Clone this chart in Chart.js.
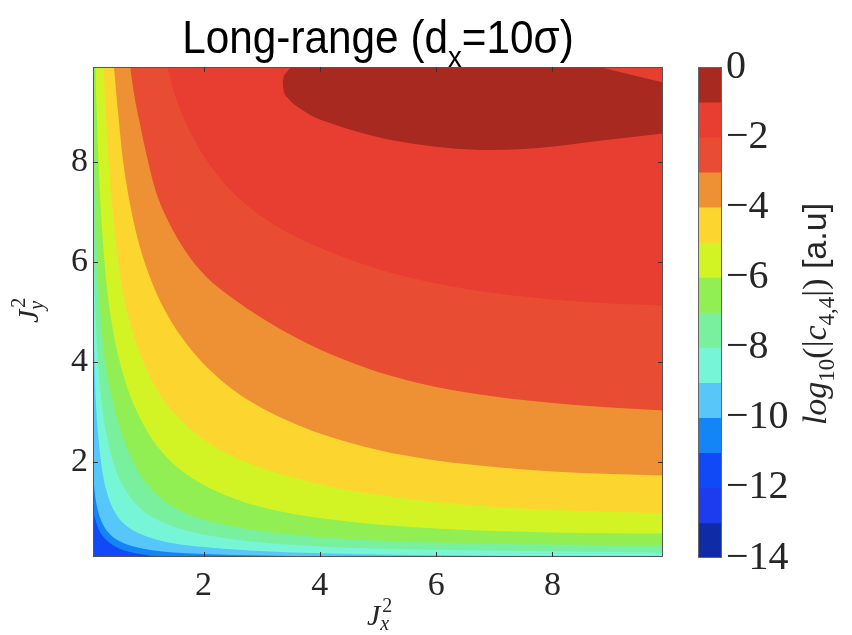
<!DOCTYPE html>
<html>
<head>
<meta charset="utf-8">
<script src="https://cdn.jsdelivr.net/npm/chart.js@4.4.0/dist/chart.umd.min.js"></script>
<style>
  html, body { margin: 0; padding: 0; background: #fff; }
  #wrap { position: relative; width: 852px; height: 635px; }
  #wrap canvas { position: absolute; left: 0; top: 0; }
</style>
</head>
<body>
<div id="wrap">
  <canvas id="mapCanvas" width="852" height="635"></canvas>
  <canvas id="barCanvas" width="852" height="635"></canvas>
</div>
<script>
// --- DATA ---
const xRange = [0.1, 9.9];
const yRange = [0.1, 9.9];
const xTicks = [2, 4, 6, 8];
const yTicks = [2, 4, 6, 8];
const cbarRange = [-14, 0];
const cbarTicks = [0, -2, -4, -6, -8, -10, -12, -14];

// one colour per band, from (0,-1) down to (-13,-14)
const bandColors = [
    '#a8291f', '#e83d31', '#e84c33', '#ee9134', '#fcd62f', '#d3f424', '#91ef53',
    '#79f09d', '#77f5d7', '#57c6f9', '#1485f7', '#1249f6', '#1d3ced', '#0f2ca6'
];

// contour lines as [J_x^2, J_y^2] pairs; the region above/right of each line is >= its level
const floorLine = [[0.1, 0.1], [9.9, 0.1]];               // level -12 fills whole map
const contourM11 = [[0.1, 1.0], [0.2, 0.65], [0.35, 0.42], [0.55, 0.27], [0.85, 0.17], [1.3, 0.11], [2.0, 0.08], [9.9, 0.05]];
const contourM10 = [[0.1, 1.85], [0.13, 1.4], [0.18, 1.05], [0.26, 0.78], [0.38, 0.57], [0.55, 0.42], [0.8, 0.31], [1.15, 0.23], [1.7, 0.175], [2.5, 0.14], [3.5, 0.12], [4.5, 0.105], [6.0, 0.095], [9.9, 0.08]];
const contourM9 = [[0.1, 5.5], [0.12, 4.2], [0.15, 3.2], [0.2, 2.4], [0.27, 1.75], [0.37, 1.28], [0.5, 0.95], [0.7, 0.7], [1.0, 0.52], [1.4, 0.39], [2.0, 0.3], [2.8, 0.23], [4.0, 0.175], [6.0, 0.135], [8.0, 0.115], [9.9, 0.1]];
const contourM8 = [[0.1, 7.5], [0.12, 6.0], [0.15, 4.8], [0.2, 3.8], [0.27, 3.0], [0.37, 2.35], [0.5, 1.82], [0.68, 1.4], [0.92, 1.07], [1.25, 0.82], [1.7, 0.63], [2.3, 0.49], [3.0, 0.39], [4.0, 0.31], [5.0, 0.27], [6.0, 0.245], [8.0, 0.215], [9.9, 0.19]];
const contourM7 = [[0.1, 9.3], [0.12, 8.0], [0.15, 6.8], [0.19, 5.6], [0.25, 4.6], [0.33, 3.85], [0.44, 3.2], [0.58, 2.62], [0.76, 2.08], [1.0, 1.6], [1.3, 1.24], [1.7, 0.97], [2.2, 0.79], [2.8, 0.65], [3.5, 0.55], [4.2, 0.48], [5.0, 0.43], [6.0, 0.39], [7.0, 0.365], [8.0, 0.35], [9.9, 0.33]];
const contourM6 = [[0.14, 9.9], [0.17, 8.8], [0.21, 7.6], [0.26, 6.6], [0.33, 5.6], [0.42, 4.8], [0.54, 4.1], [0.7, 3.45], [0.9, 2.9], [1.15, 2.4], [1.45, 2.0], [1.8, 1.68], [2.25, 1.4], [2.8, 1.16], [3.5, 0.97], [4.2, 0.85], [5.0, 0.75], [6.0, 0.67], [7.0, 0.62], [8.0, 0.59], [9.0, 0.575], [9.9, 0.57]];
const contourM5 = [[0.28, 9.9], [0.32, 9.0], [0.37, 8.0], [0.43, 7.1], [0.5, 6.3], [0.6, 5.5], [0.72, 4.85], [0.88, 4.25], [1.08, 3.7], [1.32, 3.22], [1.6, 2.85], [1.95, 2.5], [2.4, 2.17], [2.9, 1.92], [3.5, 1.7], [4.2, 1.5], [5.0, 1.34], [6.0, 1.2], [7.0, 1.1], [8.0, 1.04], [9.0, 1.0], [9.9, 0.98]];
const contourM4 = [[0.46, 9.9], [0.53, 9.0], [0.62, 8.0], [0.73, 7.2], [0.86, 6.5], [1.0, 5.95], [1.2, 5.35], [1.45, 4.8], [1.75, 4.3], [2.1, 3.85], [2.5, 3.45], [3.0, 3.08], [3.5, 2.8], [4.0, 2.57], [5.0, 2.24], [6.0, 2.03], [7.0, 1.9], [8.0, 1.81], [9.0, 1.76], [9.9, 1.73]];
const contourM3 = [[0.74, 9.9], [0.8, 9.4], [0.9, 8.8], [1.0, 8.25], [1.17, 7.45], [1.4, 6.8], [1.7, 6.2], [2.05, 5.7], [2.47, 5.3], [3.0, 4.88], [3.6, 4.48], [4.2, 4.15], [5.0, 3.8], [6.0, 3.5], [7.0, 3.31], [8.0, 3.18], [9.0, 3.09], [9.9, 3.03]];
const contourM2 = [[1.38, 9.9], [1.48, 9.45], [1.6, 9.05], [1.75, 8.65], [1.95, 8.22], [2.2, 7.8], [2.5, 7.4], [2.85, 7.04], [3.25, 6.72], [3.7, 6.44], [4.2, 6.19], [5.0, 5.86], [6.0, 5.57], [7.0, 5.38], [8.0, 5.25], [9.0, 5.17], [9.9, 5.13]];
// level -1 closes into an ellipse that is cut by the top edge
const contourM1Lower = [[3.36, 9.57], [3.38, 9.42], [3.45, 9.28], [3.55, 9.16], [3.7, 9.04], [3.9, 8.9], [4.2, 8.77], [4.6, 8.62], [5.1, 8.47], [5.7, 8.35], [6.3, 8.27], [6.9, 8.24], [7.5, 8.26], [8.1, 8.32], [8.7, 8.41], [9.3, 8.49], [9.9, 8.57]];
const contourM1UpperLeft = [[3.36, 9.57], [3.38, 9.7], [3.43, 9.8], [3.5, 9.88], [3.56, 9.93]];
const contourM1UpperRight = [[8.7, 9.93], [9.3, 9.76], [9.9, 9.59]];

// --- HELPERS ---
const serif = '"Liberation Serif", "DejaVu Serif", serif';
const sans = '"Liberation Sans", Arial, sans-serif';
const inkColor = '#262626';

function contour(points, color) {
    return {
        data: points.map(([x, y]) => ({ x, y })),
        backgroundColor: color,
        borderColor: 'rgba(0,0,0,0)',
        borderWidth: 0,
        pointRadius: 0,
        fill: 'end',
        cubicInterpolationMode: 'monotone'
    };
}

// draws a row of text pieces (for sub/superscripts), centred on x
function drawRuns(ctx, runs, x, y) {
    let total = 0;
    runs.forEach(r => {
        ctx.font = r.font;
        r.w = ctx.measureText(r.text).width;
        if (!r.stay) total += r.w;
    });
    let cx = x - total / 2;
    runs.forEach(r => {
        ctx.font = r.font;
        ctx.fillText(r.text, cx + (r.dx || 0), y + (r.dy || 0));
        if (!r.stay) cx += r.w;
    });
}

// paint from the lowest level up; Chart.js draws dataset 0 last, so reverse
const painted = [
    contour(floorLine, bandColors[11]),
    contour(contourM11, bandColors[10]),
    contour(contourM10, bandColors[9]),
    contour(contourM9, bandColors[8]),
    contour(contourM8, bandColors[7]),
    contour(contourM7, bandColors[6]),
    contour(contourM6, bandColors[5]),
    contour(contourM5, bandColors[4]),
    contour(contourM4, bandColors[3]),
    contour(contourM3, bandColors[2]),
    contour(contourM2, bandColors[1]),
    contour(contourM1Lower, bandColors[0]),
    contour(contourM1UpperLeft, bandColors[1]),
    contour(contourM1UpperRight, bandColors[1])
].reverse();

// --- MAP PLUGIN: frame, inner ticks, title, axis titles ---
const mapDecor = {
    id: 'mapDecor',
    afterDraw(chart) {
        const { ctx, chartArea: a, scales } = chart;
        ctx.save();
        ctx.strokeStyle = '#555';
        ctx.lineWidth = 1;
        ctx.strokeRect(a.left + 0.5, a.top + 0.5, a.right - a.left - 1, a.bottom - a.top - 1);

        ctx.strokeStyle = '#333';
        ctx.beginPath();
        xTicks.forEach(v => {
            const px = Math.round(scales.x.getPixelForValue(v)) + 0.5;
            ctx.moveTo(px, a.bottom); ctx.lineTo(px, a.bottom - 5);
            ctx.moveTo(px, a.top); ctx.lineTo(px, a.top + 5);
        });
        yTicks.forEach(v => {
            const py = Math.round(scales.y.getPixelForValue(v)) + 0.5;
            ctx.moveTo(a.left, py); ctx.lineTo(a.left + 5, py);
            ctx.moveTo(a.right, py); ctx.lineTo(a.right - 5, py);
        });
        ctx.stroke();

        ctx.fillStyle = '#000';
        ctx.textBaseline = 'alphabetic';
        ctx.textAlign = 'left';

        // title
        ctx.save();
        ctx.translate((a.left + a.right) / 2, 53);
        ctx.scale(0.92, 1);
        drawRuns(ctx, [
            { text: 'Long-range (d', font: '46px ' + sans },
            { text: 'x', font: '30px ' + sans, dy: 14 },
            { text: '=10σ)', font: '46px ' + sans }
        ], 0, 0);
        ctx.restore();

        ctx.fillStyle = inkColor;
        // x title
        drawRuns(ctx, [
            { text: 'J', font: 'italic 30px ' + serif },
            { text: '2', font: '20px ' + serif, dy: -13, dx: 2, stay: true },
            { text: 'x', font: 'italic 20px ' + serif, dy: 5 }
        ], (a.left + a.right) / 2, 625);

        // y title
        ctx.save();
        ctx.translate(38, (a.top + a.bottom) / 2);
        ctx.rotate(-Math.PI / 2);
        drawRuns(ctx, [
            { text: 'J', font: 'italic 30px ' + serif },
            { text: '2', font: '20px ' + serif, dy: -13, dx: 2, stay: true },
            { text: 'y', font: 'italic 20px ' + serif, dy: 5 }
        ], 0, 0);
        ctx.restore();
        ctx.restore();
    }
};

new Chart(document.getElementById('mapCanvas'), {
    type: 'line',
    data: { datasets: painted },
    options: {
        responsive: false,
        animation: false,
        layout: { padding: { left: 0, top: 67, right: 189, bottom: 0 } },
        plugins: { legend: { display: false }, tooltip: { enabled: false }, filler: { propagate: false } },
        scales: {
            x: {
                type: 'linear', min: xRange[0], max: xRange[1],
                grid: { display: false, drawTicks: false }, border: { display: false },
                ticks: { padding: 9, color: inkColor, font: { family: serif, size: 34 } },
                afterBuildTicks: s => { s.ticks = xTicks.map(v => ({ value: v })); },
                afterFit: s => { s.height = 78; }
            },
            y: {
                type: 'linear', min: yRange[0], max: yRange[1],
                grid: { display: false, drawTicks: false }, border: { display: false },
                ticks: { padding: 5, color: inkColor, font: { family: serif, size: 34 } },
                afterBuildTicks: s => { s.ticks = yTicks.map(v => ({ value: v })); },
                afterFit: s => { s.width = 93; }
            }
        }
    },
    plugins: [mapDecor]
});

// --- COLORBAR ---
const barDecor = {
    id: 'barDecor',
    afterDraw(chart) {
        const { ctx, chartArea: a } = chart;
        ctx.save();
        ctx.strokeStyle = '#666';
        ctx.lineWidth = 1;
        ctx.strokeRect(a.left + 0.5, a.top + 0.5, a.right - a.left - 1, a.bottom - a.top - 1);

        ctx.fillStyle = inkColor;
        ctx.textBaseline = 'alphabetic';
        ctx.translate(826, 314);
        ctx.rotate(-Math.PI / 2);
        drawRuns(ctx, [
            { text: 'log', font: 'italic 34px ' + serif },
            { text: '10', font: '23px ' + serif, dy: 8 },
            { text: '(|', font: '34px ' + serif },
            { text: 'c', font: 'italic 34px ' + serif },
            { text: '4,4', font: '23px ' + serif, dy: 8 },
            { text: '|)', font: '34px ' + serif },
            { text: ' [a.u]', font: '34px ' + sans }
        ], 0, 0);
        ctx.restore();
    }
};

new Chart(document.getElementById('barCanvas'), {
    type: 'bar',
    data: {
        labels: ['cbar'],
        datasets: bandColors.map((c, i) => ({
            data: [[-(i + 1), -i]],
            backgroundColor: c,
            borderWidth: 0,
            grouped: false,
            barPercentage: 1,
            categoryPercentage: 1
        }))
    },
    options: {
        responsive: false,
        animation: false,
        layout: { padding: { left: 698, top: 67, right: 0, bottom: 77 } },
        plugins: { legend: { display: false }, tooltip: { enabled: false } },
        scales: {
            x: { display: false },
            y: {
                position: 'right', min: cbarRange[0], max: cbarRange[1],
                grid: { display: false, drawTicks: false }, border: { display: false },
                ticks: {
                    padding: 4, color: inkColor, font: { family: serif, size: 40 },
                    callback: v => (v < 0 ? '\u2212' + Math.abs(v) : String(v))
                },
                afterBuildTicks: s => { s.ticks = cbarTicks.map(v => ({ value: v })); },
                afterFit: s => { s.width = 130; }
            }
        }
    },
    plugins: [barDecor]
});
</script>
</body>
</html>
